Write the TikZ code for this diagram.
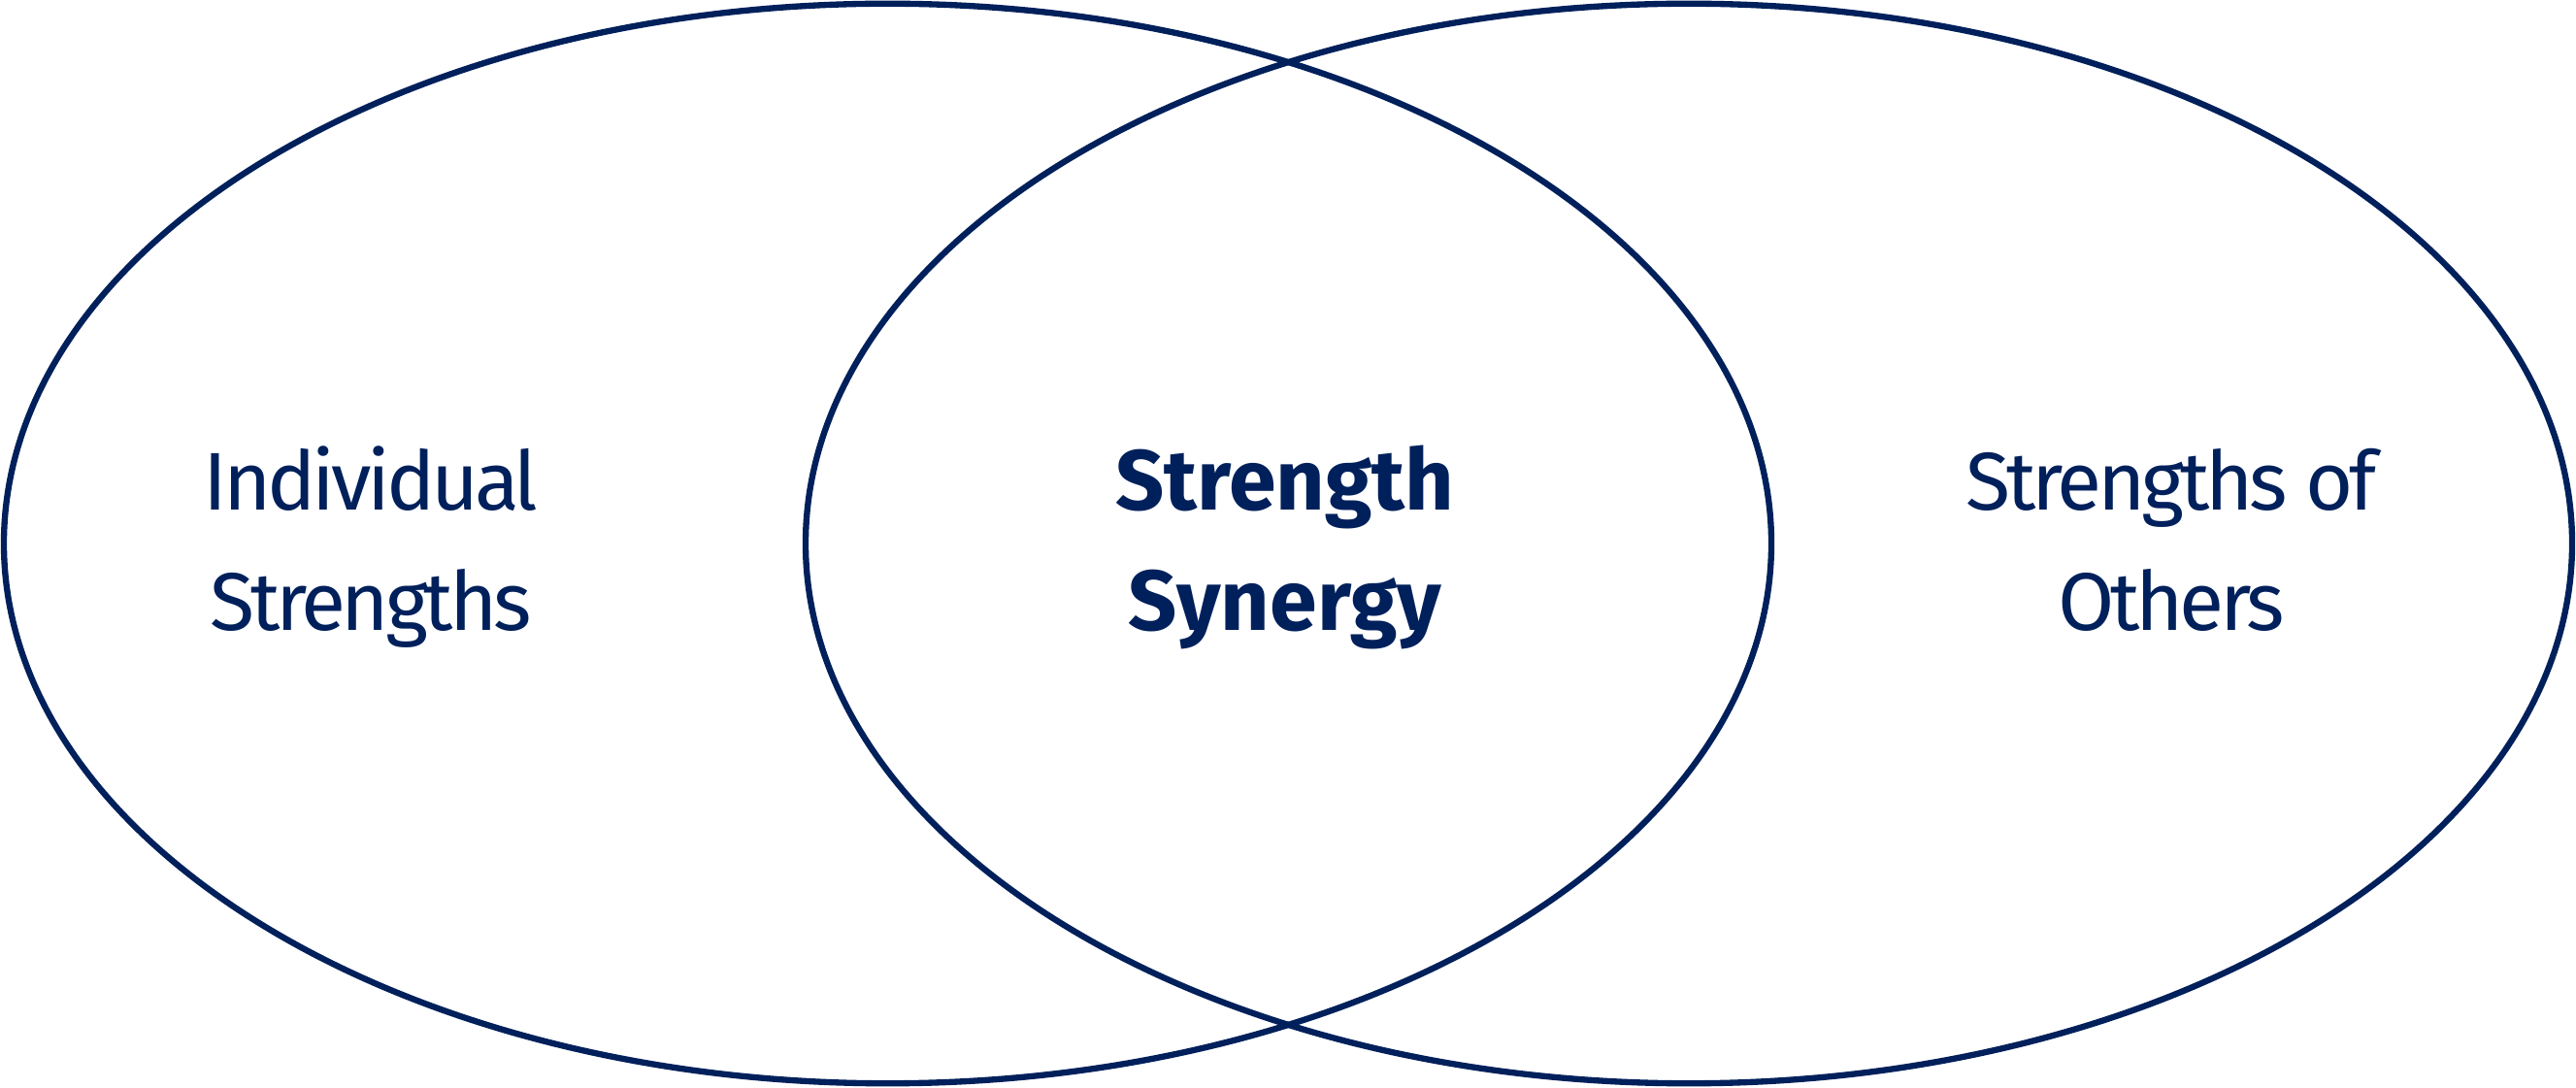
\documentclass[tikz,border=0pt]{standalone}
\usepackage{fontspec}
\setmainfont{Fira Sans}[LetterSpace=-5,BoldFeatures={LetterSpace=0}]
\definecolor{navy}{RGB}{0,32,91}
\tikzset{
    setring/.style={draw=navy,line width=1.8pt},
    setlabel/.style={text=navy,align=center,anchor=base,inner sep=0pt,
        font=\fontsize{24}{35.3}\selectfont},
}

\begin{document}
\begin{tikzpicture}
\useasboundingbox (0,0) rectangle (26.54,11.2);
\draw[setring] (9.145,5.6) ellipse (9.105 and 5.5625);
\draw[setring] (17.40,5.6) ellipse (9.10 and 5.5625);
% anchor base sits on the second line
\node[setlabel] (own) at (3.82,4.70) {Individual\\Strengths};
\node[setlabel,font=\fontsize{25}{35.3}\selectfont\bfseries] (synergy) at (13.24,4.70) {Strength\\Synergy};
\node[setlabel] (others) at (22.37,4.70) {Strengths of\\Others};
\end{tikzpicture}
\end{document}
